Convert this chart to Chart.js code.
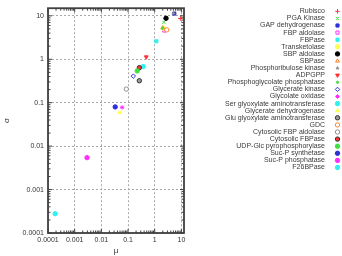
<!DOCTYPE html>
<html>
<head>
<meta charset="utf-8">
<script src="https://cdn.jsdelivr.net/npm/chart.js@4/dist/chart.umd.min.js"></script>
<style>
  html, body { margin: 0; padding: 0; background: #fff; }
  #wrap { width: 342px; height: 256px; position: relative; }
</style>
</head>
<body>
<div id="wrap"><canvas id="chart"></canvas></div>
<script>
const ENZYMES = [
    'Rubisco', 'PGA Kinase', 'GAP dehydrogenase', 'FBP aldolase', 'FBPase',
    'Transketolase', 'SBP aldolase', 'SBPase', 'Phosphoribulose kinase', 'ADPGPP',
    'Phosphoglycolate phosphatase', 'Glycerate kinase', 'Glycolate oxidase',
    'Ser glyoxylate aminotransferase', 'Glycerate dehydrogenase',
    'Glu glyoxylate aminotransferase', 'GDC', 'Cytosolic FBP aldolase',
    'Cytosolic FBPase', 'UDP-Glc pyrophosphorylase', 'Suc-P synthetase',
    'Suc-P phosphatase', 'F26BPase',
];

// mu (x) and sigma (y)
const MU = [
    9.1, 2.2, 5.4, 2.29, 1.15,
    2.1, 2.65, 2.0, 5.0, 0.48,
    1.96, 0.158, 0.060,
    0.37, 0.049,
    0.265, 2.81, 0.086,
    0.265, 0.22, 0.033,
    0.0029, 0.000185,
];
const SIGMA = [
    8.7, 7.1, 11.3, 4.6, 2.6,
    5.2, 8.8, 5.3, 11.5, 1.13,
    5.2, 0.41, 0.078,
    0.68, 0.060,
    0.32, 4.76, 0.206,
    0.64, 0.54, 0.080,
    0.00543, 0.000278,
];

const X_TICKS = [0.0001, 0.001, 0.01, 0.1, 1, 10];
const Y_TICKS = [0.0001, 0.001, 0.01, 0.1, 1, 10];

// gnuplot-ish colour cycle and point types
const PALETTE = ['#ff3030', '#40e040', '#3030d8', '#ff30ff', '#30f0f0', '#ffff50', '#000000', '#ff8030', '#909090'];
const MARKERS = [
    { style: 'cross',    fill: false },
    { style: 'crossRot', fill: false },
    { style: 'rect',     fill: true  },
    { style: 'rect',     fill: false },
    { style: 'rect',     fill: true  },
    { style: 'circle',   fill: true  },
    { style: 'circle',   fill: true  },
    { style: 'triangle', fill: false },
    { style: 'triangle', fill: true, r: 1.6 },
    { style: 'triangle', fill: true, rot: 180 },
    { style: 'star',     fill: false, r: 1.6 },
    { style: 'rectRot',  fill: false },
    { style: 'star',     fill: false },
    { style: 'circle',   fill: true  },
    { style: 'triangle', fill: true  },
    { style: 'circle',   fill: true, ring: true, inner: '#9a9a9a' },
    { style: 'circle',   fill: false },
    { style: 'circle',   fill: false },
    { style: 'circle',   fill: true, ring: true },
    { style: 'circle',   fill: true  },
    { style: 'circle',   fill: true  },
    { style: 'circle',   fill: true  },
    { style: 'circle',   fill: true  },
];

const FONT = '"Liberation Sans", Arial, sans-serif';

function colorOf(i) { return PALETTE[i % PALETTE.length]; }

function markerOpts(i) {
    const m = MARKERS[i];
    return {
        pointStyle: m.style,
        radius: m.r ?? 2.2,
        rotation: m.rot ?? 0,
        borderWidth: 1,
    };
}

function drawMarker(ctx, i, x, y) {
    const m = MARKERS[i];
    const c = colorOf(i);
    ctx.save();
    ctx.fillStyle = m.inner ?? (m.fill ? c : '#ffffff');
    ctx.strokeStyle = m.ring ? '#303030' : c;
    ctx.lineWidth = 1;
    Chart.helpers.drawPoint(ctx, markerOpts(i), x, y);
    ctx.restore();
}

const datasets = ENZYMES.map((name, i) => ({
    label: name,
    data: [{ x: MU[i], y: SIGMA[i] }],
    pointRadius: 0,
    pointHoverRadius: 0,
}));

// markers, frame with inward ticks and the right-hand legend
const gnuplotLook = {
    id: 'gnuplotLook',
    afterDatasetsDraw(chart) {
        const ctx = chart.ctx;
        chart.data.datasets.forEach((ds, i) => {
            const pt = chart.getDatasetMeta(i).data[0];
            if (pt) drawMarker(ctx, i, pt.x, pt.y);
        });
    },
    afterDraw(chart) {
        const ctx = chart.ctx;
        const a = chart.chartArea;
        const xs = chart.scales.x, ys = chart.scales.y;

        ctx.save();
        ctx.strokeStyle = '#404040';
        ctx.lineWidth = 1;
        const tickSet = (scale) => {
            const out = [];
            for (let d = -5; d <= 2; d++) {
                for (let m = 1; m <= 9; m++) {
                    const v = m * Math.pow(10, d);
                    if (v >= scale.min && v <= scale.max) out.push({ v, major: m === 1 });
                }
            }
            return out;
        };
        ctx.beginPath();
        tickSet(xs).forEach(t => {
            const px = xs.getPixelForValue(t.v);
            const len = t.major ? 4 : 2.5;
            ctx.moveTo(px, a.bottom); ctx.lineTo(px, a.bottom - len);
            ctx.moveTo(px, a.top);    ctx.lineTo(px, a.top + len);
        });
        tickSet(ys).forEach(t => {
            const py = ys.getPixelForValue(t.v);
            const len = t.major ? 4 : 2.5;
            ctx.moveTo(a.left, py);  ctx.lineTo(a.left + len, py);
            ctx.moveTo(a.right, py); ctx.lineTo(a.right - len, py);
        });
        ctx.stroke();

        ctx.lineWidth = 1.8;
        ctx.strokeRect(a.left, a.top, a.right - a.left, a.bottom - a.top);
        ctx.restore();

        // legend
        ctx.save();
        ctx.font = '7px ' + FONT;
        ctx.fillStyle = '#3a3a3a';
        ctx.textAlign = 'right';
        ctx.textBaseline = 'middle';
        ENZYMES.forEach((name, i) => {
            const y = 11.3 + i * 7.1;
            ctx.fillText(name, 325, y);
            drawMarker(ctx, i, 337.5, y);
        });
        ctx.restore();
    },
};

const axisGrid = {
    color: '#a8a8a8',
    lineWidth: 1,
    drawTicks: false,
};

new Chart(document.getElementById('chart'), {
    type: 'scatter',
    data: { datasets },
    options: {
        responsive: true,
        maintainAspectRatio: false,
        animation: false,
        events: [],
        layout: { padding: { left: 0, top: 7, right: 158, bottom: 0 } },
        plugins: {
            legend: { display: false },
            tooltip: { enabled: false },
        },
        scales: {
            x: {
                type: 'logarithmic',
                min: 0.0001,
                max: 12.5,
                border: { display: false, dash: [2, 2] },
                grid: axisGrid,
                afterBuildTicks: s => { s.ticks = X_TICKS.map(v => ({ value: v })); },
                afterFit: s => { s.height = 23; },
                ticks: {
                    autoSkip: false,
                    maxRotation: 0,
                    padding: 3,
                    color: '#333',
                    font: { family: FONT, size: 7 },
                    callback: v => String(v),
                },
                title: {
                    display: true,
                    text: 'μ',
                    color: '#333',
                    font: { family: FONT, size: 8, lineHeight: 1.2 },
                    padding: { top: 0, bottom: 0 },
                },
            },
            y: {
                type: 'logarithmic',
                min: 0.0001,
                max: 15,
                border: { display: false, dash: [2, 2] },
                grid: axisGrid,
                afterBuildTicks: s => { s.ticks = Y_TICKS.map(v => ({ value: v })); },
                afterFit: s => { s.width = 48; },
                ticks: {
                    autoSkip: false,
                    padding: 4,
                    color: '#333',
                    font: { family: FONT, size: 7 },
                    callback: v => String(v),
                },
                title: {
                    display: true,
                    text: 'σ',
                    color: '#333',
                    font: { family: FONT, size: 8, lineHeight: 1.2 },
                    padding: { top: 2, bottom: 0 },
                },
            },
        },
    },
    plugins: [gnuplotLook],
});
</script>
</body>
</html>
